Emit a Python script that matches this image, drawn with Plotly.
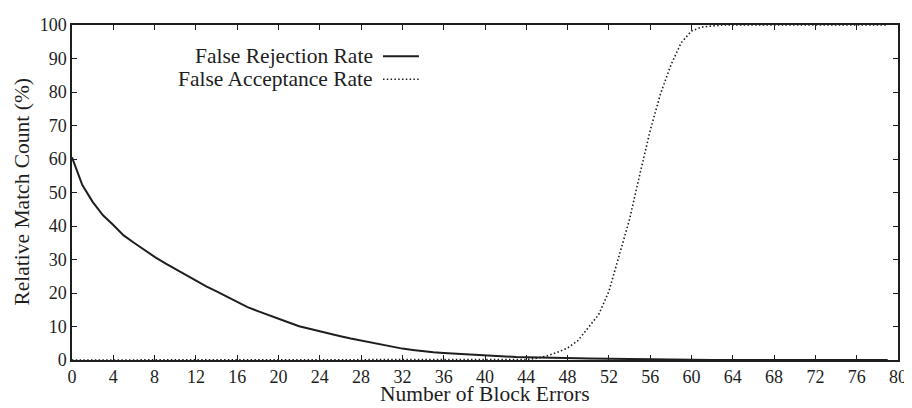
import plotly.graph_objects as go

# --- Données ---
nb_erreurs = list(range(0, 80))

taux_faux_rejet = [
    60.5, 52.2, 47.2, 43.2, 40.3, 37.2, 35.0, 32.8, 30.8, 28.9,
    27.2, 25.3, 23.8, 22.0, 20.5, 19.0, 17.4, 15.8, 14.6, 13.4,
    12.4, 11.2, 10.1, 9.3, 8.5, 7.8, 7.1, 6.4, 5.8, 5.1,
    4.5, 3.9, 3.4, 3.0, 2.6, 2.3, 2.1, 1.9, 1.7, 1.5,
    1.3, 1.15, 1.0, 0.9, 0.8, 0.7, 0.65, 0.6, 0.55, 0.5,
    0.45, 0.4, 0.35, 0.3, 0.25, 0.2, 0.12, 0.08, 0.04, 0.02,
] + [0.0] * 20

taux_fausse_accept = [0.0] * 44 + [
    0.15, 0.5, 1.2, 2.3, 3.6, 5.8, 9.5, 13.5, 20.5, 31.0,
    42.0, 55.5, 68.5, 79.5, 88.0, 94.7, 98.2, 99.4, 99.8,
] + [100.0] * 17

ticks_x = list(range(0, 81, 4))
ticks_y = list(range(0, 101, 10))

noms_series = ["False Rejection Rate", "False Acceptance Rate"]
titre_x = "Number of Block Errors"
titre_y = "Relative Match Count (%)"

POLICE = "Liberation Serif, Times New Roman, serif"
NOIR = "#1e1e1e"
POINTILLE = "1.5px,2.3px"

fig = go.Figure()

fig.add_trace(go.Scatter(
    x=nb_erreurs, y=taux_fausse_accept,
    name=noms_series[1], mode="lines",
    line=dict(color=NOIR, width=1.6, dash=POINTILLE),
    showlegend=False,
))
fig.add_trace(go.Scatter(
    x=nb_erreurs, y=taux_faux_rejet,
    name=noms_series[0], mode="lines",
    line=dict(color=NOIR, width=2),
    showlegend=False,
))

# légende façon gnuplot : texte à gauche, échantillon de trait à droite
rangs_y = [0.907, 0.838]
styles = [dict(color=NOIR, width=2), dict(color=NOIR, width=1.6, dash=POINTILLE)]
for nom, y_leg, style in zip(noms_series, rangs_y, styles):
    fig.add_annotation(
        x=0.3668, y=y_leg, xref="paper", yref="paper",
        text=nom, showarrow=False, xanchor="right", yanchor="middle",
        font=dict(family=POLICE, size=21.5, color=NOIR),
    )
    fig.add_shape(
        type="line", xref="paper", yref="paper",
        x0=0.3765, x1=0.42, y0=y_leg, y1=y_leg, line=style,
    )

# titres des axes placés à la main (comme sur l'original)
fig.add_annotation(
    x=0.5, y=-0.101, xref="paper", yref="paper",
    text=titre_x, showarrow=False, xanchor="center", yanchor="middle",
    borderpad=0,
    font=dict(family=POLICE, size=21.5, color=NOIR),
)
fig.add_annotation(
    x=-0.0617, y=0.5, xref="paper", yref="paper",
    text=titre_y, showarrow=False, textangle=-90,
    xanchor="center", yanchor="middle", borderpad=0,
    font=dict(family=POLICE, size=21.5, color=NOIR),
)

axe_commun = dict(
    showline=True, linecolor=NOIR, linewidth=1.5, mirror="ticks",
    ticks="inside", ticklen=5, tickwidth=1.2, tickcolor=NOIR,
    showgrid=False, zeroline=False, ticklabeloverflow="allow",
    tickfont=dict(family=POLICE, size=18, color=NOIR),
)

# la page ajoute 8 px de marge autour du graphique : on compense ici
fig.update_layout(
    width=912, height=408,
    margin=dict(l=64, r=22, t=7, b=56),
    paper_bgcolor="white", plot_bgcolor="white",
    xaxis=dict(range=[0, 80], tickvals=ticks_x, **axe_commun),
    yaxis=dict(range=[0, 100], tickvals=ticks_y, **axe_commun),
)

fig.write_html("out.html")
